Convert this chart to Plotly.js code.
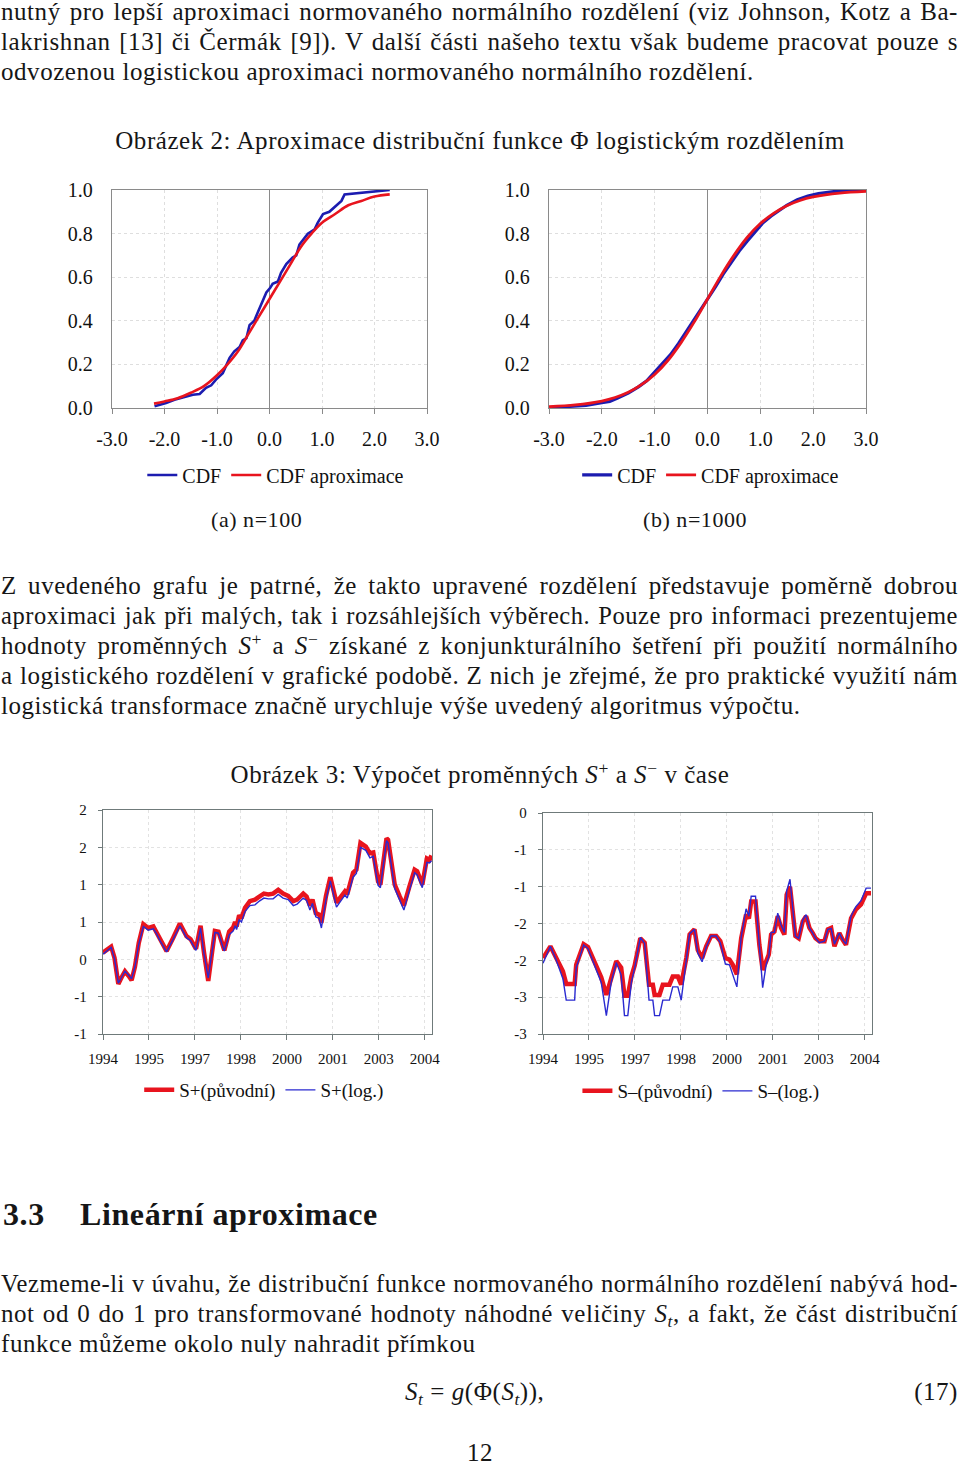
<!DOCTYPE html>
<html><head><meta charset="utf-8">
<script src="https://cdn.plot.ly/plotly-3.0.1.min.js"></script>
<style>
html,body{margin:0;padding:0;background:#fff;}
body{width:960px;height:1464px;position:relative;overflow:hidden;color:#161616;font-family:"Liberation Serif",serif;}
.ln{position:absolute;left:1px;width:957px;font-size:25px;line-height:30px;height:30px;letter-spacing:0.55px;}
.j{text-align:justify;text-align-last:justify;}
.c{text-align:center;left:0;width:960px;}
.chart{position:absolute;}
sup{font-size:0.7em;line-height:0;position:relative;vertical-align:baseline;top:-0.5em;}
sub{font-size:0.7em;line-height:0;position:relative;vertical-align:baseline;top:0.3em;}
</style></head><body>

<div class="ln j" style="top:-3px">nutný pro lepší aproximaci normovaného normálního rozdělení (viz Johnson, Kotz a Ba-</div>
<div class="ln j" style="top:27px">lakrishnan [13] či Čermák [9]). V další části našeho textu však budeme pracovat pouze s</div>
<div class="ln" style="top:57px">odvozenou logistickou aproximaci normovaného normálního rozdělení.</div>

<div class="ln c" style="top:126px">Obrázek 2: Aproximace distribuční funkce Φ logistickým rozdělením</div>

<div id="chA" class="chart" style="left:40px;top:170px;width:410px;height:360px"></div>
<div id="chB" class="chart" style="left:480px;top:170px;width:420px;height:360px"></div>

<div class="ln" style="top:505px;left:211px;width:120px;font-size:22px">(a) n=100</div>
<div class="ln" style="top:505px;left:643px;width:140px;font-size:22px">(b) n=1000</div>

<div class="ln j" style="top:571px">Z uvedeného grafu je patrné, že takto upravené rozdělení představuje poměrně dobrou</div>
<div class="ln j" style="top:601px">aproximaci jak při malých, tak i rozsáhlejších výběrech. Pouze pro informaci prezentujeme</div>
<div class="ln j" style="top:631px">hodnoty proměnných <i>S</i><sup>+</sup> a <i>S</i><sup>−</sup> získané z konjunkturálního šetření při použití normálního</div>
<div class="ln j" style="top:661px">a logistického rozdělení v grafické podobě. Z nich je zřejmé, že pro praktické využití nám</div>
<div class="ln" style="top:691px">logistická transformace značně urychluje výše uvedený algoritmus výpočtu.</div>

<div class="ln c" style="top:760px">Obrázek 3: Výpočet proměnných <i>S</i><sup>+</sup> a <i>S</i><sup>−</sup> v čase</div>

<div id="chC" class="chart" style="left:30px;top:795px;width:430px;height:350px"></div>
<div id="chD" class="chart" style="left:470px;top:795px;width:430px;height:350px"></div>

<div class="ln" style="top:1197px;left:3px;font-size:32px;line-height:34px;height:34px;font-weight:bold;letter-spacing:0.6px">3.3</div>
<div class="ln" style="top:1197px;left:80px;font-size:32px;line-height:34px;height:34px;font-weight:bold;letter-spacing:0.6px">Lineární aproximace</div>

<div class="ln j" style="top:1269px">Vezmeme-li v úvahu, že distribuční funkce normovaného normálního rozdělení nabývá hod-</div>
<div class="ln j" style="top:1299px">not od 0 do 1 pro transformované hodnoty náhodné veličiny <i>S</i><sub><i>t</i></sub>, a fakt, že část distribuční</div>
<div class="ln" style="top:1329px">funkce můžeme okolo nuly nahradit přímkou</div>

<div class="ln" style="top:1377px;left:405px;width:200px"><i>S</i><sub><i>t</i></sub> = <i>g</i>(Φ(<i>S</i><sub><i>t</i></sub>)),</div>
<div class="ln" style="top:1377px;left:860px;width:98px;text-align:right">(17)</div>

<div class="ln c" style="top:1438px">12</div>

<script>
// ---------- Obrázek 2 (a) n=100 ----------
const cdfA_x = [-2.19,-1.97,-1.81,-1.46,-1.33,-1.21,-1.11,-1.02,-0.89,-0.83,-0.76,-0.67,-0.57,-0.51,-0.44,-0.38,-0.29,-0.22,-0.13,-0.06,0.01,0.06,0.16,0.22,0.32,0.44,0.51,0.57,0.73,0.86,0.92,1.02,1.14,1.27,1.37,1.43,2.29];
const cdfA_y = [0.008,0.023,0.038,0.061,0.064,0.092,0.104,0.13,0.16,0.19,0.23,0.26,0.28,0.31,0.32,0.38,0.40,0.44,0.49,0.53,0.55,0.57,0.58,0.62,0.66,0.69,0.70,0.75,0.80,0.82,0.85,0.89,0.90,0.93,0.95,0.98,1.00];
const aproxA_x = [-2.2,-2.0,-1.75,-1.5,-1.25,-1.0,-0.8,-0.6,-0.4,-0.2,0.0,0.2,0.4,0.6,0.8,1.0,1.25,1.5,1.75,2.0,2.29];
const aproxA_y = [0.02,0.03,0.045,0.07,0.10,0.15,0.20,0.26,0.34,0.42,0.50,0.58,0.66,0.74,0.80,0.85,0.89,0.93,0.95,0.97,0.98];

// ---------- Obrázek 2 (b) n=1000 ----------
const cdfB_x = [-2.95,-2.6,-2.3,-2.0,-1.85,-1.7,-1.5,-1.3,-1.15,-1.0,-0.85,-0.7,-0.55,-0.4,-0.25,-0.1,0.0,0.15,0.3,0.45,0.6,0.75,0.9,1.05,1.2,1.35,1.5,1.7,1.9,2.1,2.4,2.7,3.0];
const cdfB_y = [0.002,0.006,0.012,0.024,0.030,0.046,0.068,0.098,0.125,0.165,0.205,0.245,0.295,0.35,0.41,0.465,0.50,0.555,0.615,0.67,0.72,0.765,0.81,0.85,0.88,0.905,0.93,0.955,0.972,0.984,0.993,0.997,0.999];
const aproxB_x = [-3.0,-2.5,-2.0,-1.75,-1.5,-1.25,-1.0,-0.75,-0.5,-0.25,0.0,0.25,0.5,0.75,1.0,1.25,1.5,1.75,2.0,2.5,3.0];
const aproxB_y = [0.006,0.014,0.032,0.048,0.072,0.107,0.154,0.218,0.30,0.395,0.50,0.605,0.70,0.782,0.846,0.893,0.928,0.952,0.968,0.986,0.994];

const cdfTickVals = [-3,-2,-1,0,1,2,3];
const cdfTickText = ['-3.0','-2.0','-1.0','0.0','1.0','2.0','3.0'];
const probTickVals = [0,0.2,0.4,0.6,0.8,1.0];
const probTickText = ['0.0','0.2','0.4','0.6','0.8','1.0'];

// ---------- Obrázek 3: S+ ----------
const sPlus_month = [0,1.5,3.2,4.5,6,7.3,8.6,10,11.2,12.5,14,15.8,17.7,19.7,21,22.3,24.9,27.5,30.1,32.7,34.3,36.4,38.2,39.5,41.2,43.8,45.2,47.5,49.4,51,51.7,52.3,53.3,54.2,55.6,57.5,59.5,61.2,63,64.7,66.6,68.6,70.5,72.5,74.5,76,78.4,79.7,81,82,83.3,84.6,85.5,87.3,89,91.4,93.3,94.7,95.6,97.9,99.2,100.8,102.9,104.5,105.8,107.7,108.6,111,111.6,114.2,116.2,117.8,120,122,123,125,126.8,127.8,128.6];
const sPlus_orig = [0.09,0.12,0.17,0.02,-0.33,-0.24,-0.16,-0.22,-0.28,-0.10,0.22,0.47,0.42,0.44,0.36,0.27,0.11,0.29,0.48,0.31,0.27,0.14,0.45,0.10,-0.29,0.38,0.37,0.12,0.37,0.43,0.50,0.44,0.59,0.55,0.69,0.78,0.80,0.84,0.88,0.87,0.88,0.93,0.88,0.85,0.78,0.80,0.88,0.84,0.72,0.80,0.62,0.60,0.49,0.85,1.10,0.76,0.84,0.91,0.87,1.16,1.20,1.56,1.51,1.42,1.43,1.04,1.00,1.62,1.60,1.00,0.84,0.72,0.98,1.20,1.18,1.00,1.35,1.33,1.39];
const sPlus_log  = [0.07,0.11,0.16,0.01,-0.32,-0.24,-0.16,-0.21,-0.26,-0.10,0.20,0.44,0.39,0.41,0.34,0.25,0.10,0.27,0.45,0.29,0.25,0.12,0.42,0.08,-0.25,0.36,0.35,0.11,0.33,0.38,0.45,0.40,0.53,0.50,0.64,0.72,0.73,0.78,0.82,0.81,0.81,0.87,0.82,0.80,0.72,0.74,0.82,0.79,0.66,0.75,0.57,0.55,0.42,0.80,1.05,0.70,0.79,0.86,0.82,1.10,1.15,1.50,1.46,1.36,1.38,0.99,0.96,1.59,1.56,0.95,0.79,0.66,0.93,1.16,1.13,0.96,1.30,1.29,1.32];

// ---------- Obrázek 3: S- ----------
const sMinus_month = [0,2.9,5.2,7.8,9.1,12.4,13,15.9,17.6,20.2,21.5,22.8,24.8,26.7,28.7,30.6,31.9,33.2,34.6,35.9,38.1,39.8,41.5,43,43.7,45.6,46.9,49.5,50.8,52.8,54.1,56.1,57.4,59.3,60.6,62.3,63.9,65.8,67.8,69.4,71.4,73,74.3,75.9,77.6,79.5,80.6,81.5,83.2,84.7,86,87.4,88.4,89.3,90.6,91.9,93.2,94.5,95.4,96.7,98.8,100.1,101.7,103,104.3,105.6,106.7,108.2,110.2,111.5,112.8,114.1,116,117.3,118.6,120.6,122.5,124.5,126.5,128.4];
const sMinus_orig = [-1.97,-1.81,-1.97,-2.15,-2.32,-2.32,-2.06,-1.78,-1.82,-2.01,-2.10,-2.23,-2.47,-2.23,-2.01,-2.10,-2.48,-2.48,-2.22,-2.07,-1.70,-1.76,-2.33,-2.33,-2.47,-2.47,-2.33,-2.33,-2.22,-2.22,-2.33,-1.97,-1.65,-1.58,-1.86,-1.97,-1.81,-1.67,-1.67,-1.74,-1.97,-1.99,-2.06,-2.19,-1.70,-1.38,-1.43,-1.20,-1.20,-1.79,-2.13,-2.01,-1.92,-1.65,-1.61,-1.40,-1.56,-1.65,-1.11,-1.00,-1.67,-1.70,-1.47,-1.40,-1.56,-1.63,-1.70,-1.74,-1.74,-1.58,-1.56,-1.81,-1.63,-1.72,-1.79,-1.43,-1.31,-1.24,-1.09,-1.09];
const sMinus_log  = [-2.04,-1.81,-2.00,-2.25,-2.54,-2.54,-2.10,-1.79,-1.84,-2.07,-2.20,-2.30,-2.75,-2.30,-2.03,-2.20,-2.75,-2.75,-2.30,-2.10,-1.69,-1.77,-2.54,-2.54,-2.75,-2.75,-2.54,-2.54,-2.36,-2.36,-2.54,-1.98,-1.64,-1.58,-1.90,-2.02,-1.82,-1.67,-1.67,-1.76,-2.05,-2.06,-2.20,-2.36,-1.68,-1.30,-1.40,-1.13,-1.13,-1.80,-2.37,-2.05,-1.95,-1.62,-1.62,-1.36,-1.52,-1.62,-1.06,-0.90,-1.67,-1.70,-1.45,-1.38,-1.56,-1.63,-1.70,-1.76,-1.74,-1.58,-1.57,-1.78,-1.63,-1.72,-1.78,-1.40,-1.27,-1.19,-1.02,-1.02];

const yearTickVals = [0,18,36,54,72,90,108,126];
const yearTickText = ['1994','1995','1997','1998','2000','2001','2003','2004'];
const sPlusTickVals = [2,1.5,1,0.5,0,-0.5,-1];
const sPlusTickText = ['2','2','1','1','0','-1','-1'];
const sMinusTickVals = [0,-0.5,-1,-1.5,-2,-2.5,-3];
const sMinusTickText = ['0','-1','-1','-2','-2','-3','-3'];

const BLUE = '#1c1cb0', RED = '#e8141e';
const SERIF = 'Liberation Serif, Times New Roman, serif';
const cfg = {staticPlot:true, displayModeBar:false};

// plot area height 218 px (page y 190..408)
function cdfLayout(l, r, legX){
  return {
    margin:{l:l, r:r, t:20, b:122, pad:0},
    paper_bgcolor:'rgba(0,0,0,0)', plot_bgcolor:'#fff',
    font:{family:SERIF, size:20, color:'#111'},
    showlegend:true,
    legend:{orientation:'h', x:legX, xanchor:'center', y:-0.307, yanchor:'middle', font:{family:SERIF, size:20, color:'#111'}, itemwidth:30, tracegroupgap:0},
    xaxis:{range:[-3,3], tickvals:cdfTickVals, ticktext:cdfTickText, showgrid:true, gridcolor:'#dedede', griddash:'dot',
      zeroline:true, zerolinecolor:'#8a8a8a', zerolinewidth:1.2, showline:true, linecolor:'#8a8a8a', linewidth:1.2, mirror:true,
      ticks:'outside', ticklen:5, tickcolor:'#8a8a8a', ticklabelstandoff:8, tickfont:{family:SERIF, size:20, color:'#111'}, fixedrange:true},
    yaxis:{range:[0,1], tickvals:probTickVals, ticktext:probTickText, showgrid:true, gridcolor:'#dedede', griddash:'dot',
      zeroline:false, showline:true, linecolor:'#8a8a8a', linewidth:1.2, mirror:true, ticks:'', ticklabelstandoff:14,
      tickfont:{family:SERIF, size:20, color:'#111'}, fixedrange:true}
  };
}

Plotly.newPlot('chA', [
  {x:cdfA_x, y:cdfA_y, name:'CDF', mode:'lines', line:{color:BLUE, width:2.6}},
  {x:aproxA_x, y:aproxA_y, name:'CDF aproximace', mode:'lines', line:{color:RED, width:2.6, shape:'spline'}}
], Object.assign(cdfLayout(72, 23, 0.52), {width:410, height:360}), cfg);

Plotly.newPlot('chB', [
  {x:cdfB_x, y:cdfB_y, name:'CDF', mode:'lines', line:{color:BLUE, width:3.2}},
  {x:aproxB_x, y:aproxB_y, name:'CDF aproximace', mode:'lines', line:{color:RED, width:2.8, shape:'spline'}}
], Object.assign(cdfLayout(69, 34, 0.51), {width:420, height:360}), cfg);

function sLayout(t, yr, tv, tt, legX, legY){
  return {
    width:430, height:350,
    margin:{l:73, r:28, t:t, b:111, pad:0},
    paper_bgcolor:'rgba(0,0,0,0)', plot_bgcolor:'#fff',
    font:{family:SERIF, size:15, color:'#111'},
    showlegend:true,
    legend:{orientation:'h', x:legX, xanchor:'center', y:legY, yanchor:'middle', font:{family:SERIF, size:19, color:'#111'}, itemwidth:30},
    xaxis:{range:[0,128.8], tickvals:yearTickVals, ticktext:yearTickText, showgrid:true, gridcolor:'#e2e2e2', griddash:'dot',
      zeroline:false, showline:true, linecolor:'#6f7a7a', linewidth:1.3, mirror:true, ticks:'outside', ticklen:5, tickcolor:'#6f7a7a',
      ticklabelstandoff:6, tickfont:{family:SERIF, size:15, color:'#111'}, fixedrange:true},
    yaxis:{range:yr, tickvals:tv, ticktext:tt, showgrid:true, gridcolor:'#e2e2e2', griddash:'dot',
      zeroline:false, showline:true, linecolor:'#6f7a7a', linewidth:1.3, mirror:true, ticks:'outside', ticklen:4, tickcolor:'#6f7a7a',
      ticklabelstandoff:8, tickfont:{family:SERIF, size:15, color:'#111'}, fixedrange:true}
  };
}

Plotly.newPlot('chC', [
  {x:sPlus_month, y:sPlus_orig, name:'S+(původní)', mode:'lines', line:{color:RED, width:4.5}},
  {x:sPlus_month, y:sPlus_log, name:'S+(log.)', mode:'lines', line:{color:'#2a2ad0', width:1.4}}
], sLayout(15, [-1,2], sPlusTickVals, sPlusTickText, 0.49, -0.25), cfg);

Plotly.newPlot('chD', [
  {x:sMinus_month, y:sMinus_orig, name:'S–(původní)', mode:'lines', line:{color:RED, width:4.5}},
  {x:sMinus_month, y:sMinus_log, name:'S–(log.)', mode:'lines', line:{color:'#2a2ad0', width:1.4}}
], sLayout(18, [-3,0], sMinusTickVals, sMinusTickText, 0.48, -0.258), cfg);

// keep justified lines on a single row
document.querySelectorAll('.ln.j').forEach(function(el){
  let fs = 25;
  while (el.scrollHeight > 34 && fs > 18) { fs -= 0.5; el.style.fontSize = fs + 'px'; }
});
</script>
</body></html>
